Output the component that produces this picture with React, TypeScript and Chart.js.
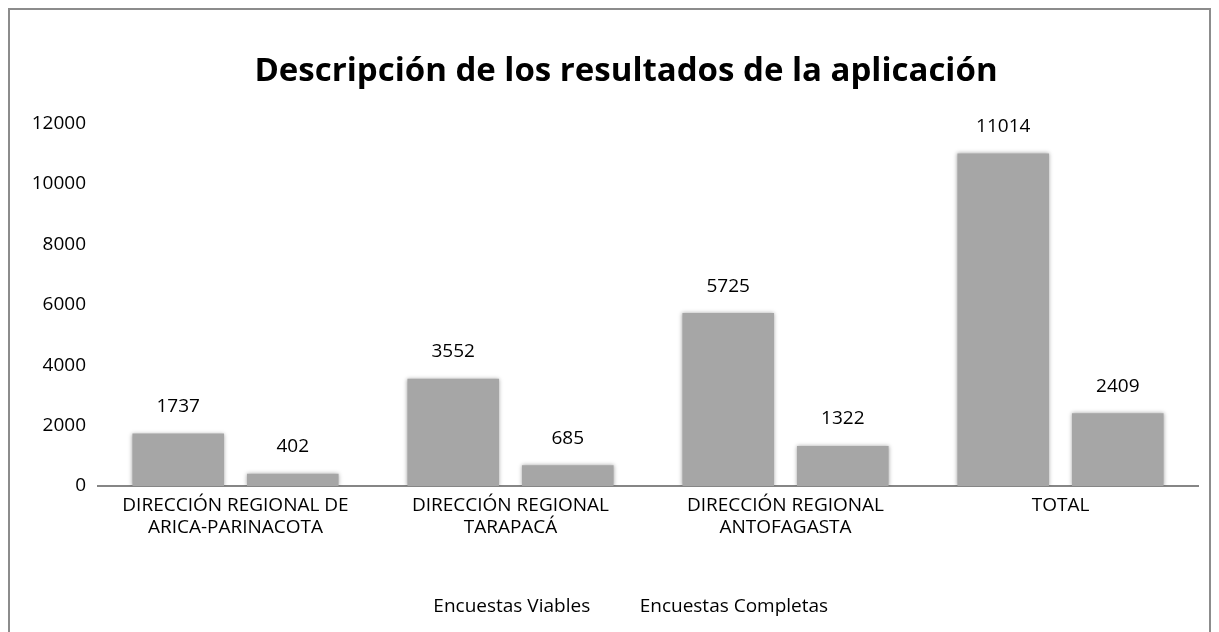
import React, { useEffect, useRef } from "react";
import { Chart, registerables } from "chart.js";

Chart.register(...registerables);

const titleText = "Descripción de los resultados de la aplicación";
const categories: string[][] = [
  ["DIRECCIÓN REGIONAL DE", "ARICA-PARINACOTA"],
  ["DIRECCIÓN REGIONAL", "TARAPACÁ"],
  ["DIRECCIÓN REGIONAL", "ANTOFAGASTA"],
  ["TOTAL"],
];
const seriesNames = ["Encuestas Viables", "Encuestas Completas"];
const viables = [1737, 3552, 5725, 11014];
const completas = [402, 685, 1322, 2409];
const yTicks = [0, 2000, 4000, 6000, 8000, 10000, 12000];

const FONT = "'Open Sans', 'Noto Sans', sans-serif";

export default function App() {
  const ref = useRef<HTMLCanvasElement | null>(null);
  useEffect(() => {
    document.documentElement.style.overflow = "hidden";
    const canvas = ref.current;
    if (!canvas) return;
    const shiftPlugin = {
      id: "shiftBlocks",
      afterLayout(chart: any) {
        const shift = 22;
        if (chart.titleBlock) {
          chart.titleBlock.left += shift;
          chart.titleBlock.right += shift;
        }
        if (chart.legend) {
          chart.legend.left += shift;
          chart.legend.right += shift;
        }
      },
    };
    const shadowPlugin = {
      id: "barShadow",
      beforeDatasetDraw(chart: any) {
        const ctx = chart.ctx;
        ctx.save();
        ctx.shadowColor = "rgba(0,0,0,0.35)";
        ctx.shadowBlur = 4;
      },
      afterDatasetDraw(chart: any) {
        chart.ctx.restore();
      },
    };
    const labelPlugin = {
      id: "valueLabels",
      afterDatasetsDraw(chart: any) {
        const ctx = chart.ctx;
        ctx.save();
        ctx.font = `19px ${FONT}`;
        ctx.fillStyle = "#000";
        ctx.textAlign = "center";
        ctx.textBaseline = "middle";
        chart.data.datasets.forEach((ds: any, i: number) => {
          const meta = chart.getDatasetMeta(i);
          meta.data.forEach((bar: any, j: number) => {
            ctx.fillText(String(ds.data[j]), bar.x, bar.y - 27);
          });
        });
        ctx.restore();
      },
    };
    const chart = new Chart(canvas, {
      type: "bar",
      data: {
        labels: categories,
        datasets: [
          {
            label: seriesNames[0],
            data: viables,
            backgroundColor: "#a6a6a6",
            categoryPercentage: 0.833,
            barPercentage: 0.8,
          },
          {
            label: seriesNames[1],
            data: completas,
            backgroundColor: "#a6a6a6",
            categoryPercentage: 0.833,
            barPercentage: 0.8,
          },
        ],
      },
      options: {
        animation: false,
        responsive: true,
        maintainAspectRatio: false,
        layout: { padding: { left: 0, right: 11, top: 0, bottom: 10 } },
        plugins: {
          title: {
            display: true,
            text: titleText,
            color: "#000",
            font: { family: FONT, size: 33, weight: "bold", lineHeight: 1.2 },
            padding: { top: 42, bottom: 32 },
          },
          legend: {
            display: true,
            position: "bottom",
            labels: {
              color: "#000",
              font: { family: FONT, size: 19 },
              boxWidth: 0,
              boxHeight: 0,
              padding: 40,
              generateLabels: (c: any) =>
                c.data.datasets.map((d: any, i: number) => ({
                  text: d.label,
                  fillStyle: "rgba(0,0,0,0)",
                  strokeStyle: "rgba(0,0,0,0)",
                  lineWidth: 0,
                  datasetIndex: i,
                  hidden: false,
                  fontColor: "#000",
                })),
            },
          },
          tooltip: { enabled: false },
        },
        scales: {
          x: {
            grid: { display: false, drawTicks: false },
            border: { display: true, color: "#868686", width: 2 },
            ticks: {
              color: "#000",
              font: { family: FONT, size: 19, lineHeight: 1.17 },
              padding: 8,
              maxRotation: 0,
              autoSkip: false,
            },
            afterFit: (s: any) => {
              s.height = 71;
            },
          },
          y: {
            min: 0,
            max: 12000,
            afterBuildTicks: (s: any) => {
              s.ticks = yTicks.map((v) => ({ value: v }));
            },
            grid: { display: false, drawTicks: false },
            border: { display: false },
            ticks: {
              color: "#000",
              font: { family: FONT, size: 19 },
              padding: 12,
              callback: (v: any) => String(v),
            },
            afterFit: (s: any) => {
              s.width = 88;
            },
          },
        },
      },
      plugins: [shiftPlugin, shadowPlugin, labelPlugin],
    });
    return () => chart.destroy();
  }, []);
  return (
    <div
      style={{
        position: "relative",
        width: 1203,
        height: 630,
        border: "2px solid #8c8c8c",
        boxSizing: "border-box",
        background: "#fff",
      }}
    >
      <canvas ref={ref} />
    </div>
  );
}
